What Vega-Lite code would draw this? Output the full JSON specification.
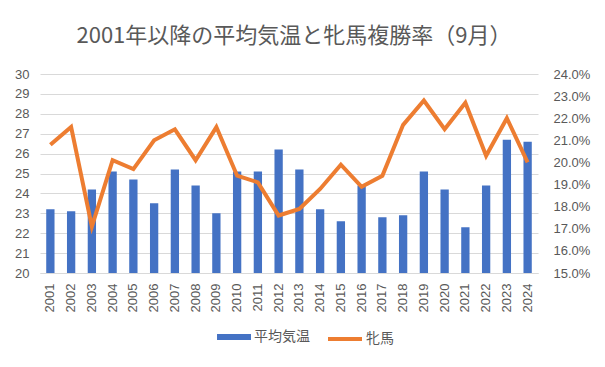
{
  "$schema": "https://vega.github.io/schema/vega-lite/v6.json",
  "width": 498,
  "height": 199,
  "autosize": {"type": "none"},
  "padding": {"left": 40, "top": 74, "right": 67, "bottom": 94},
  "background": "white",
  "title": {
    "text": "2001年以降の平均気温と牝馬複勝率（9月）",
    "font": "Noto Sans CJK JP",
    "fontSize": 22,
    "fontWeight": "normal",
    "color": "#595959",
    "anchor": "middle",
    "dx": 5,
    "offset": 20
  },
  "config": {
    "view": {"stroke": null},
    "axis": {"labelFont": "Liberation Sans", "labelFontSize": 13, "labelColor": "#595959", "ticks": false, "domain": false, "title": null, "gridColor": "#d9d9d9"},
    "legend": {"labelFont": "Noto Sans CJK JP", "labelFontSize": 14, "labelColor": "#595959", "title": null, "padding": 0}
  },
  "data": {"values": [
    {"year": "2001", "temp": 23.2, "rate": 0.208},
    {"year": "2002", "temp": 23.1, "rate": 0.216},
    {"year": "2003", "temp": 24.2, "rate": 0.171},
    {"year": "2004", "temp": 25.1, "rate": 0.201},
    {"year": "2005", "temp": 24.7, "rate": 0.197},
    {"year": "2006", "temp": 23.5, "rate": 0.210},
    {"year": "2007", "temp": 25.2, "rate": 0.215},
    {"year": "2008", "temp": 24.4, "rate": 0.201},
    {"year": "2009", "temp": 23.0, "rate": 0.216},
    {"year": "2010", "temp": 25.1, "rate": 0.194},
    {"year": "2011", "temp": 25.1, "rate": 0.191},
    {"year": "2012", "temp": 26.2, "rate": 0.176},
    {"year": "2013", "temp": 25.2, "rate": 0.179},
    {"year": "2014", "temp": 23.2, "rate": 0.188},
    {"year": "2015", "temp": 22.6, "rate": 0.199},
    {"year": "2016", "temp": 24.4, "rate": 0.189},
    {"year": "2017", "temp": 22.8, "rate": 0.194},
    {"year": "2018", "temp": 22.9, "rate": 0.217},
    {"year": "2019", "temp": 25.1, "rate": 0.228},
    {"year": "2020", "temp": 24.2, "rate": 0.215},
    {"year": "2021", "temp": 22.3, "rate": 0.227},
    {"year": "2022", "temp": 24.4, "rate": 0.203},
    {"year": "2023", "temp": 26.7, "rate": 0.220},
    {"year": "2024", "temp": 26.6, "rate": 0.200}
  ]},
  "encoding": {
    "x": {"field": "year", "type": "ordinal", "scale": {"paddingInner": 0.6, "paddingOuter": 0.3},
      "axis": {"labelAngle": -90, "labelPadding": 10, "domain": true, "domainColor": "#d9d9d9"}}
  },
  "layer": [
    {
      "mark": {"type": "bar", "clip": true},
      "encoding": {
        "y": {"field": "temp", "type": "quantitative", "scale": {"domain": [20, 30], "nice": false, "zero": false},
          "axis": {"orient": "left", "values": [20,21,22,23,24,25,26,27,28,29,30], "labelPadding": 11}},
        "color": {"datum": "平均気温", "scale": {"range": ["#4472c4"]},
          "legend": {"orient": "none", "legendX": 187, "legendY": 256, "labelOffset": 13, "symbolType": "M-2.83,-0.5L2.83,-0.5L2.83,0.5L-2.83,0.5Z", "symbolSize": 144, "symbolStrokeWidth": 0}}
      }
    },
    {
      "mark": {"type": "line", "strokeWidth": 4, "color": "#ed7d31"},
      "encoding": {
        "y": {"field": "rate", "type": "quantitative", "scale": {"domain": [0.15, 0.24], "nice": false, "zero": false},
          "axis": {"orient": "right", "format": ".1%", "values": [0.15,0.16,0.17,0.18,0.19,0.20,0.21,0.22,0.23,0.24], "grid": false, "labelPadding": 15}},
        "stroke": {"datum": "牝馬", "scale": {"range": ["#ed7d31"]},
          "legend": {"orient": "none", "legendX": 286, "legendY": 246, "labelOffset": 2, "symbolType": "stroke", "symbolStrokeWidth": 4, "symbolSize": 1156}}
      }
    }
  ],
  "resolve": {"scale": {"y": "independent"}}
}
